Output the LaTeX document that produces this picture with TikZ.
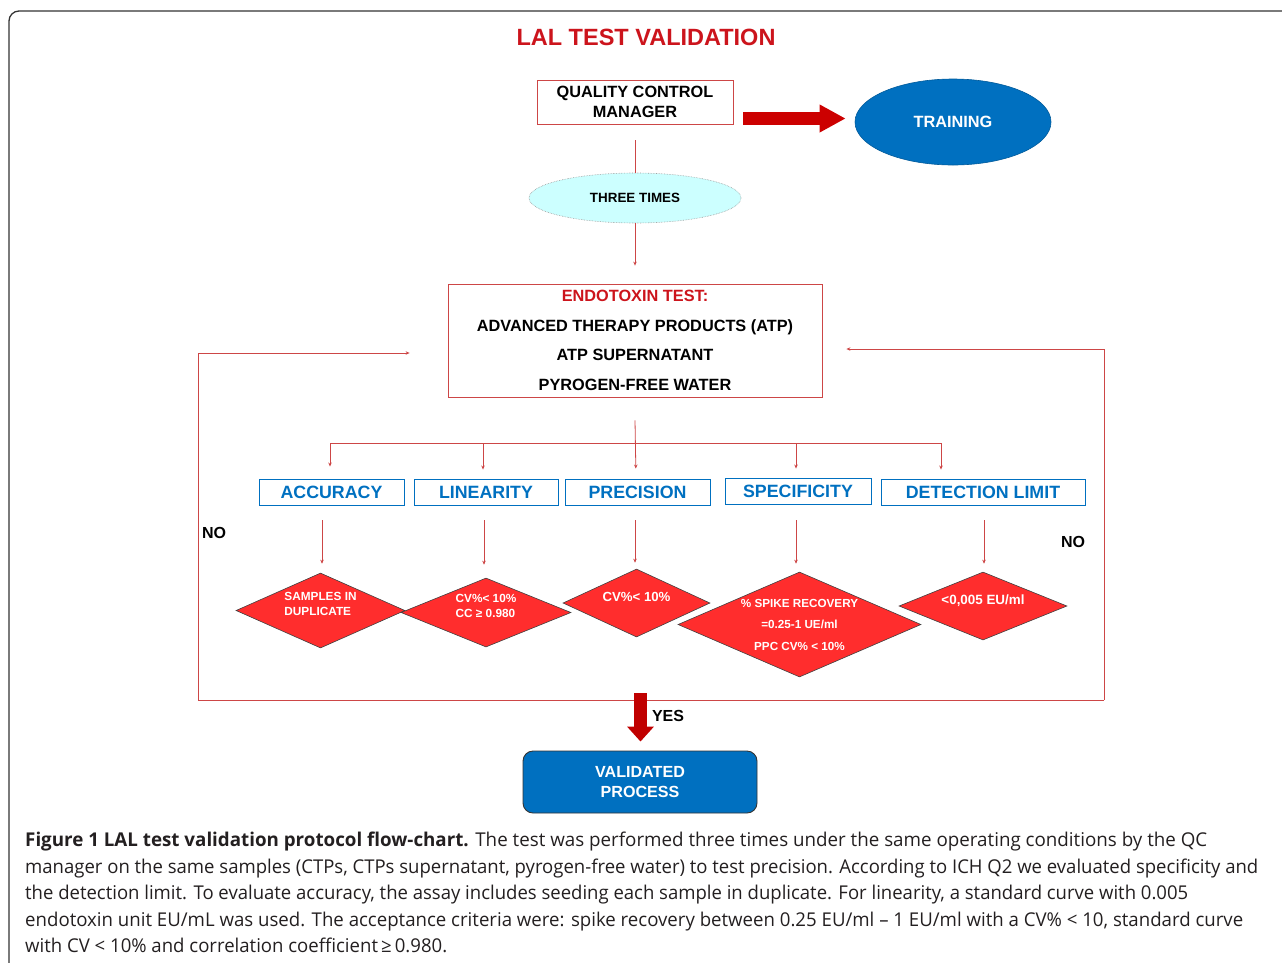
\documentclass[tikz,border=0pt]{standalone}
\usepackage{fontspec}
\usepackage{graphicx}
\setmainfont{Liberation Sans}
\newfontfamily\capfont{Open Sans}
\usetikzlibrary{shapes.geometric,arrows.meta}
\definecolor{tred}{RGB}{204,20,28}
\definecolor{lred}{RGB}{205,70,70}
\definecolor{bigred}{RGB}{204,0,0}
\definecolor{yesred}{RGB}{192,0,0}
\definecolor{tblue}{RGB}{0,112,192}
\definecolor{dred}{RGB}{255,45,45}
\definecolor{tcyan}{RGB}{204,255,255}
\definecolor{captxt}{RGB}{35,31,32}
\newcommand\fs[2]{\fontsize{#1}{#2}\selectfont}
\newcommand\capline[2]{\resizebox{#1}{\height}{#2}}
\begin{document}
\begin{tikzpicture}[x=1pt,y=-1pt,
  rl/.style={draw=lred,line width=0.8pt},
  arr/.style={rl,-{Stealth[length=4pt,width=3.5pt]}},
  bigarr/.style={line width=13pt,-{Triangle[length=26pt,width=26pt]}},
  redbox/.style={draw=lred,line width=0.8pt,rectangle,inner sep=0pt,align=center,font=\bfseries},
  bluebox/.style={draw=tblue,line width=0.9pt,rectangle,inner sep=0pt,text=tblue,font=\fs{17.8}{20}\bfseries},
  dmd/.style={diamond,draw=black!75,line width=0.6pt,fill=dred,text=white,inner sep=0pt,align=center},
  lbl/.style={font=\fs{16}{18}\bfseries,inner sep=0pt}
]
\useasboundingbox (0,0) rectangle (1282,962);
% outer frame
\draw[line width=1.3pt,color=black!80,rounded corners=10pt] (9,980) -- (9,11) -- (1300,11);

% title
\node[font=\fs{23.5}{26}\bfseries,text=tred] (title) at (646,37) {LAL TEST VALIDATION};

% quality control manager
\node[redbox,minimum width=196pt,minimum height=44pt,font=\fs{16.3}{20}\bfseries] (qc) at (635,102) {QUALITY CONTROL\\MANAGER};
\node[ellipse,fill=tblue,draw=tblue!80!black,line width=0.6pt,minimum width=196pt,minimum height=86pt,text=white,font=\fs{16.3}{18}\bfseries] (train) at (953,122) {TRAINING};
\coordinate (ay) at (0,118.5);
\draw[bigarr,bigred] ([xshift=10pt]qc.east |- ay) -- ([xshift=-9pt]train.west |- ay);

% three times
\node[ellipse,fill=tcyan,draw=black!40,densely dotted,line width=0.6pt,minimum width=212pt,minimum height=50pt,font=\fs{13.4}{15}\bfseries] (three) at (635,198) {THREE TIMES};
\draw[rl] ([yshift=-16pt]qc.south) -- (three.north);

% endotoxin test
\node[redbox,minimum width=374pt,minimum height=113pt,font=\fs{16.3}{29.5}\bfseries] (endo) at (635,340.5)
  {\textcolor{tred}{ENDOTOXIN TEST:}\\ADVANCED THERAPY PRODUCTS (ATP)\\ATP SUPERNATANT\\PYROGEN-FREE WATER};
\draw[arr,shorten >=18pt] (three.south) -- (endo.north);

% parameter boxes
\node[bluebox,minimum width=145pt,minimum height=26pt] (acc) at (331.5,492) {ACCURACY};
\node[bluebox,minimum width=144pt,minimum height=26pt] (lin) at (486,492) {LINEARITY};
\node[bluebox,minimum width=145pt,minimum height=26pt] (prec) at (637.5,492) {PRECISION};
\node[bluebox,minimum width=146pt,minimum height=26pt] (spec) at (798,491) {SPECIFICITY};
\node[bluebox,minimum width=204pt,minimum height=26pt] (det) at (983,492) {DETECTION LIMIT};

% branching
\coordinate (b1) at (330,443);
\coordinate (b2) at (483,443);
\coordinate (b3) at (636,443);
\coordinate (b4) at (796,443);
\coordinate (b5) at (941,443);
\draw[rl] (b1) -- (b5);
\draw[arr,shorten >=10pt] ([yshift=-23pt]endo.south) -- (b3 |- prec.north);
\draw[arr,shorten >=12pt] (b1) -- (b1 |- acc.north);
\draw[arr,shorten >=9pt] (b2) -- (b2 |- lin.north);
\draw[arr,shorten >=9pt] (b4) -- (b4 |- spec.north);
\draw[arr,shorten >=9pt] (b5) -- (b5 |- det.north);

% diamonds
\node[dmd,align=left,minimum width=169pt,minimum height=75pt,shape aspect=2.25,text depth=13pt,font=\fs{11.8}{15}\bfseries] (d1) at (320.5,610.5) {SAMPLES IN\\DUPLICATE};
\node[dmd,align=left,minimum width=170pt,minimum height=69pt,shape aspect=2.46,text depth=13pt,font=\fs{11.8}{15}\bfseries] (d2) at (486,612.5) {CV\%{}< 10\%\\CC ≥ 0.980};
\node[dmd,minimum width=147pt,minimum height=68pt,shape aspect=2.16,text depth=12pt,font=\fs{13.2}{15}\bfseries] (d3) at (636.5,603) {CV\%{}< 10\%};
\node[dmd,minimum width=243pt,minimum height=105pt,shape aspect=2.31,font=\fs{11.7}{21.5}\bfseries] (d4) at (799.5,624.5) {\% SPIKE RECOVERY\\=0.25-1 UE/ml\\PPC CV\% < 10\%};
\node[dmd,minimum width=168pt,minimum height=68pt,shape aspect=2.47,text depth=13pt,font=\fs{13.4}{15}\bfseries] (d5) at (983,606) {<0,005 EU/ml};

\coordinate (s1) at (322,520);
\coordinate (s2) at (484,520);
\coordinate (s3) at (635,520);
\coordinate (s4) at (796,520);
\coordinate (s5) at (984,520);
\draw[arr,shorten >=9pt] (s1) -- (s1 |- d1.north);
\draw[arr,shorten >=13pt] (s2) -- (s2 |- d2.north);
\draw[arr,shorten >=6pt] (s3) -- (s3 |- d3.north);
\draw[arr,shorten >=8pt] (s4) -- (s4 |- d4.north);
\draw[arr,shorten >=8pt] (s5) -- (s5 |- d5.north);

% feedback loops
\coordinate (lb) at (198,700);
\coordinate (lt) at (198,353);
\coordinate (rb) at (1104,700);
\coordinate (rt) at (1104,349);
\draw[rl] (lb) -- (rb);
\draw[arr,shorten >=38pt] (lb) -- (lt) -- (endo.west |- lt);
\draw[arr,shorten >=24pt] (rb) -- (rt) -- (endo.east |- rt);
\node[lbl] (no1) at (214,533) {NO};
\node[lbl] (no2) at (1073,542) {NO};

% validated
\node[rectangle,rounded corners=10pt,fill=tblue,draw=black!80,line width=0.9pt,minimum width=234pt,minimum height=62pt,text=white,align=center,font=\fs{16.1}{20}\bfseries] (valid) at (640,782) {VALIDATED\\PROCESS};
\coordinate (ys) at (640.5,693);
\draw[line width=13pt,yesred,-{Triangle[length=15pt,width=26pt]},shorten >=9pt] (ys) -- (ys |- valid.north);
\node[lbl] (yes) at (668,716) {YES};

% caption
\begin{scope}[every node/.style={anchor=base west,inner sep=0pt,text=captxt,font=\capfont\fs{19}{26}}]
\node (c1) at (25,846) {\capline{1182pt}{\textbf{Figure 1 LAL test validation protocol flow-chart.} The test was performed three times under the same operating conditions by the QC}};
\node (c2) at (25,873) {\capline{1233pt}{manager on the same samples (CTPs, CTPs supernatant, pyrogen-free water) to test precision. According to ICH Q2 we evaluated specificity and}};
\node (c3) at (25,899) {\capline{1163pt}{the detection limit. To evaluate accuracy, the assay includes seeding each sample in duplicate. For linearity, a standard curve with 0.005}};
\node (c4) at (25,926) {\capline{1218pt}{endotoxin unit EU/mL was used. The acceptance criteria were: spike recovery between 0.25 EU/ml – 1 EU/ml with a CV\% < 10, standard curve}};
\node (c5) at (25,952) {\capline{422pt}{with CV < 10\% and correlation coefficient\,≥\,0.980.}};
\end{scope}
\end{tikzpicture}
\end{document}
